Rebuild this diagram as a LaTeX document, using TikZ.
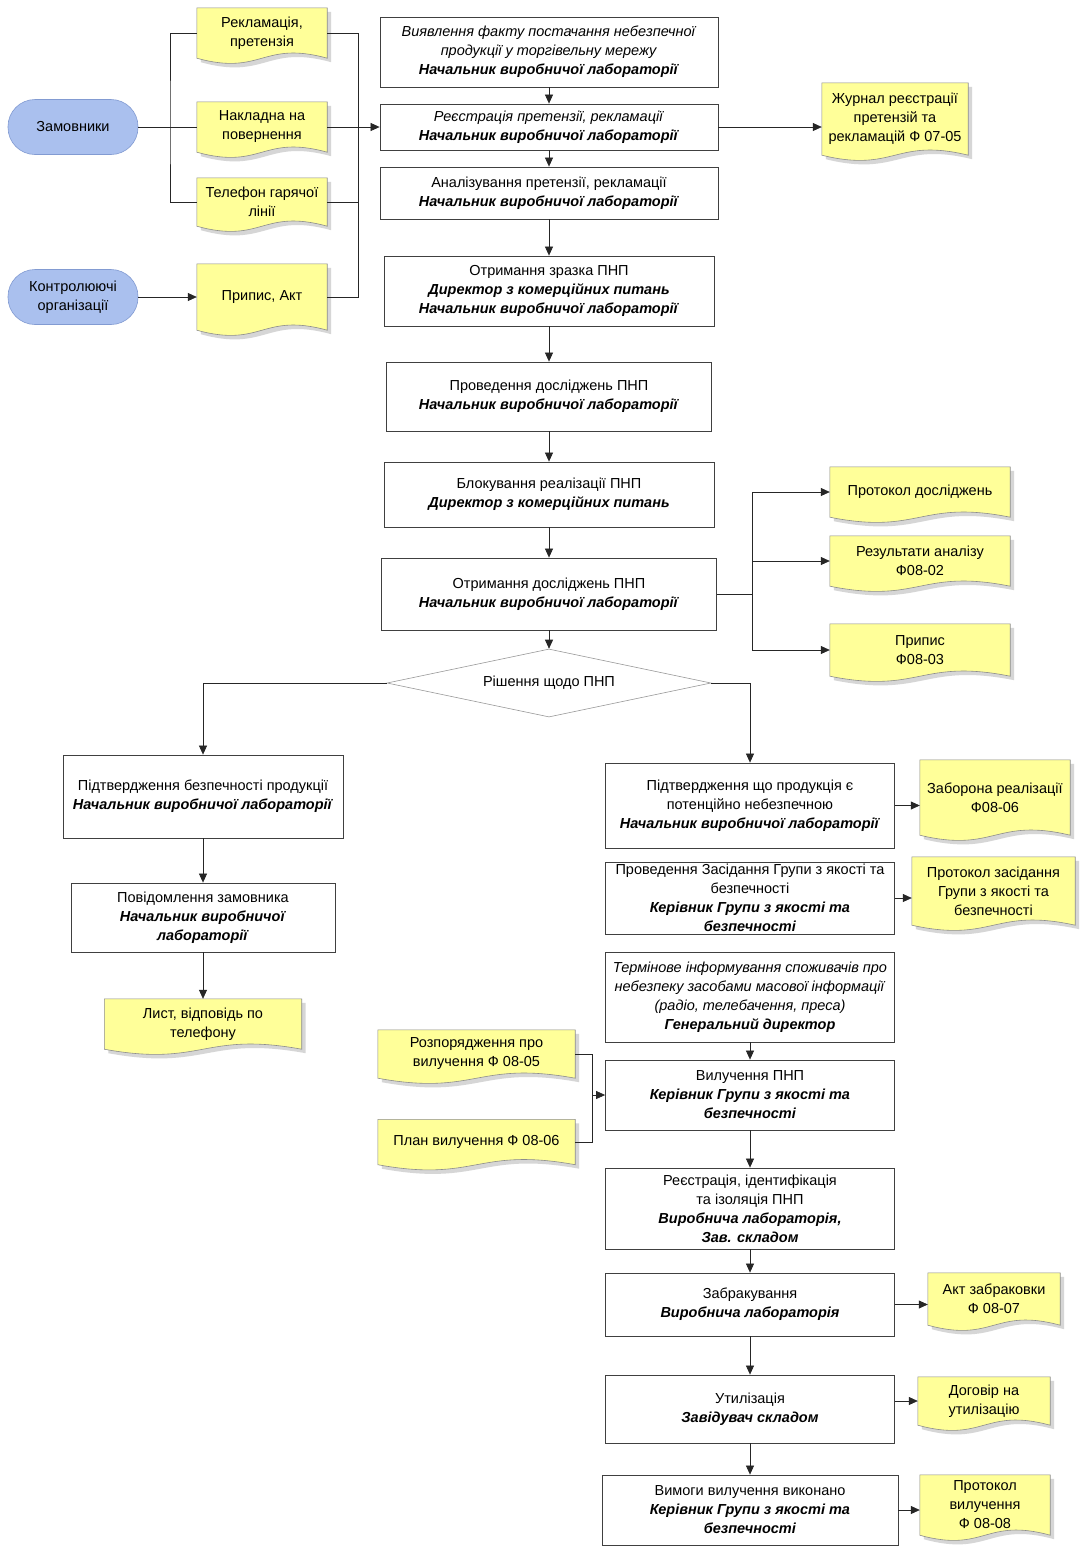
\documentclass[tikz,border=0pt]{standalone}
\usepackage{fontspec}
\setmainfont{Liberation Sans}
\usetikzlibrary{arrows.meta,shapes.geometric,backgrounds,calc}
\definecolor{docY}{RGB}{255,255,153}
\definecolor{termB}{RGB}{170,192,238}
\definecolor{termD}{RGB}{130,155,210}
\newcommand\mybi[1]{\textbf{\textit{#1}}}
\newcommand\docshape[1]{%
  \fill[black!16] ([shift={(4,4)}]#1.north west) -- ([shift={(4,4)}]#1.north east) -- ([shift={(4,4)}]#1.south east)
    .. controls ([shift={(4,-14)}]#1.south) and ([shift={(4,22)}]#1.south) .. ([shift={(4,4)}]#1.south west) -- cycle;
  \filldraw[fill=docY, draw=black!45, line width=0.6pt] (#1.north west) -- (#1.north east) -- (#1.south east)
    .. controls ([shift={(0,-18)}]#1.south) and ([shift={(0,18)}]#1.south) .. (#1.south west) -- cycle;}
\begin{document}
\begin{tikzpicture}[x=1pt,y=-1pt,
  every node/.style={font=\fontsize{14.5}{19}\selectfont, align=center},
  proc/.style={draw=black!75, line width=0.8pt, fill=white, inner sep=1pt},
  docnode/.style={inner sep=1pt},
  termnode/.style={draw=termD, line width=0.6pt, fill=termB, rounded corners=27pt, minimum width=130pt, minimum height=55pt, inner sep=1pt},
  ln/.style={draw=black!85, line width=0.7pt},
  arr/.style={draw=black!85, line width=0.7pt, -{Triangle[length=9pt,width=8pt]}}]
\useasboundingbox (0,0) rectangle (1081,1551);

% ---- left inputs
\node[termnode] (zam) at (73,127) {Замовники};
\node[termnode] (kon) at (73,297) {Контролюючі\\організації};
\node[docnode, minimum width=130pt, minimum height=50pt] (rek) at (262,33) {Рекламація,\\претензія};
\node[docnode, minimum width=130pt, minimum height=50pt] (nak) at (262,127) {Накладна на\\повернення};
\node[docnode, minimum width=130pt, minimum height=48pt] (tel) at (262,202) {Телефон гарячої\\лінії};
\node[docnode, minimum width=130pt, minimum height=66pt] (prip) at (262,297) {Припис, Акт};

% ---- main column
\node[proc, minimum width=338pt, minimum height=70pt] (b1) at (549,52)
  {\textit{Виявлення факту постачання небезпечної}\\\textit{продукції у торгівельну мережу}\\\mybi{Начальник виробничої лабораторії}};
\node[proc, minimum width=338pt, minimum height=46pt] (b2) at (549,127)
  {\textit{Реєстрація претензії, рекламації}\\\mybi{Начальник виробничої лабораторії}};
\node[proc, minimum width=338pt, minimum height=52pt] (b3) at (549,193)
  {Аналізування претензії, рекламації\\\mybi{Начальник виробничої лабораторії}};
\node[proc, minimum width=330pt, minimum height=70pt] (b4) at (549,291)
  {Отримання зразка ПНП\\\mybi{Директор з комерційних питань}\\\mybi{Начальник виробничої лабораторії}};
\node[proc, minimum width=325pt, minimum height=69pt] (b5) at (549,396.5)
  {Проведення досліджень ПНП\\\mybi{Начальник виробничої лабораторії}};
\node[proc, minimum width=330pt, minimum height=65pt] (b6) at (549,494.5)
  {Блокування реалізації ПНП\\\mybi{Директор з комерційних питань}};
\node[proc, minimum width=335pt, minimum height=72pt] (b7) at (549,594)
  {Отримання досліджень ПНП\\\mybi{Начальник виробничої лабораторії}};
\node[diamond, shape aspect=4.76, draw=black!40, line width=0.6pt, fill=white, minimum width=324pt, minimum height=68pt, inner sep=0pt] (dia) at (549,683) {Рішення щодо ПНП};

\node[docnode, minimum width=146pt, minimum height=72pt] (zhur) at (895,119) {Журнал реєстрації\\претензій та\\рекламацій Ф 07-05};
\node[docnode, minimum width=180pt, minimum height=50pt] (pr1) at (920,492) {Протокол досліджень};
\node[docnode, minimum width=180pt, minimum height=50pt] (rez) at (920,561) {Результати аналізу\\Ф08-02};
\node[docnode, minimum width=180pt, minimum height=52pt] (pr2) at (920,650) {Припис\\Ф08-03};

% ---- left branch
\node[proc, minimum width=280pt, minimum height=83pt] (pb) at (203,796.5)
  {Підтвердження безпечності продукції\\\mybi{Начальник виробничої лабораторії}};
\node[proc, minimum width=264pt, minimum height=69pt] (pz) at (203,917.5)
  {Повідомлення замовника\\\mybi{Начальник виробничої}\\\mybi{лабораторії}};
\node[docnode, minimum width=197pt, minimum height=50pt] (lyst) at (203,1024) {Лист, відповідь по\\телефону};

% ---- right branch
\node[proc, minimum width=289pt, minimum height=85pt] (pd) at (750,805.5)
  {Підтвердження що продукція є\\потенційно небезпечною\\\mybi{Начальник виробничої лабораторії}};
\node[proc, minimum width=289pt, minimum height=72pt] (pzas) at (750,898)
  {Проведення Засідання Групи з якості та\\безпечності\\\mybi{Керівник Групи з якості та}\\\mybi{безпечності}};
\node[proc, minimum width=289pt, minimum height=90pt] (term) at (750,997)
  {\textit{Термінове інформування споживачів про}\\\textit{небезпеку засобами масової інформації}\\\textit{(радіо, телебачення, преса)}\\\mybi{Генеральний директор}};
\node[proc, minimum width=289pt, minimum height=70pt] (vyl) at (750,1095)
  {Вилучення ПНП\\\mybi{Керівник Групи з якості та}\\\mybi{безпечності}};
\node[proc, minimum width=289pt, minimum height=81pt] (reie) at (750,1208.5)
  {Реєстрація, ідентифікація\\та ізоляція ПНП\\\mybi{Виробнича лабораторія,}\\\mybi{Зав. складом}};
\node[proc, minimum width=289pt, minimum height=63pt] (zabr) at (750,1304.5)
  {Забракування\\\mybi{Виробнича лабораторія}};
\node[proc, minimum width=289pt, minimum height=68pt] (util) at (750,1409)
  {Утилізація\\\mybi{Завідувач складом}};
\node[proc, minimum width=296pt, minimum height=70pt] (vymo) at (750,1510)
  {Вимоги вилучення виконано\\\mybi{Керівник Групи з якості та}\\\mybi{безпечності}};

\node[docnode, minimum width=150pt, minimum height=75pt] (zab) at (995,797.5) {Заборона реалізації\\Ф08-06};
\node[docnode, minimum width=163pt, minimum height=68pt] (protz) at (993.5,891) {Протокол засідання\\Групи з якості та\\безпечності};
\node[docnode, minimum width=197pt, minimum height=48pt] (rozp) at (476.5,1054) {Розпорядження про\\вилучення Ф 08-05};
\node[docnode, minimum width=197pt, minimum height=45pt] (plan) at (476.5,1142) {План вилучення Ф 08-06};
\node[docnode, minimum width=132pt, minimum height=52pt] (akt) at (994,1299) {Акт забраковки\\Ф 08-07};
\node[docnode, minimum width=132pt, minimum height=48pt] (dog) at (984,1401) {Договір на\\утилізацію};
\node[docnode, minimum width=130pt, minimum height=60pt] (protv) at (985,1505) {Протокол\\вилучення\\Ф 08-08};

% ---- document shapes behind texts
\begin{scope}[on background layer]
  \fill[white] (0,0) rectangle (1081,1551);
  \docshape{rek}\docshape{nak}\docshape{tel}\docshape{prip}
  \docshape{zhur}\docshape{pr1}\docshape{rez}\docshape{pr2}
  \docshape{lyst}\docshape{zab}\docshape{protz}\docshape{rozp}\docshape{plan}
  \docshape{akt}\docshape{dog}\docshape{protv}
\end{scope}

% ---- connectors: left inputs
\coordinate (bl) at (170,127);
\coordinate (br) at (358,127);
\draw[ln] (zam.east) -- (nak.west);
\draw[ln] (rek.west) -| (bl) |- (tel.west);
\draw[ln] (rek.east) -| (br);
\draw[ln] (tel.east) -| (br);
\draw[ln] (prip.east) -| (br);
\draw[arr] (nak.east) -- (b2.west);
\draw[arr] (kon.east) -- (prip.west);

% ---- main column
\draw[arr] (b1.south) -- (b2.north);
\draw[arr] (b2.south) -- (b3.north);
\draw[arr] (b3.south) -- (b4.north);
\draw[arr] (b4.south) -- (b5.north);
\draw[arr] (b5.south) -- (b6.north);
\draw[arr] (b6.south) -- (b7.north);
\draw[arr] (b7.south) -- (dia.north);
\draw[arr] (b2.east) -- (b2.east -| zhur.west);

\coordinate (bx) at (752,0);
\draw[ln] (b7.east) -- (b7.east -| bx);
\draw[ln] (bx |- pr1.west) -- (bx |- pr2.west);
\draw[arr] (bx |- pr1.west) -- (pr1.west);
\draw[arr] (bx |- rez.west) -- (rez.west);
\draw[arr] (bx |- pr2.west) -- (pr2.west);

% ---- decision
\draw[arr] (dia.west) -| (pb.north);
\draw[arr] (dia.east) -| (pd.north);
\draw[arr] (pb.south) -- (pz.north);
\draw[arr] (pz.south) -- (lyst.north);

% ---- right branch
\draw[arr] (pd.east) -- (pd.east -| zab.west);
\draw[arr] (pzas.east) -- (pzas.east -| protz.west);
\draw[arr] (term.south) -- (vyl.north);
\draw[arr] (vyl.south) -- (reie.north);
\draw[arr] (reie.south) -- (zabr.north);
\draw[arr] (zabr.south) -- (util.north);
\draw[arr] (util.south) -- (vymo.north);
\draw[arr] (zabr.east) -- (zabr.east -| akt.west);
\draw[arr] (dog.west -| util.east) -- (dog.west);
\draw[arr] (vymo.east) -- (vymo.east -| protv.west);

\coordinate (bv) at (592,1095);
\draw[ln] (rozp.east) -| (bv);
\draw[ln] (plan.east) -| (bv);
\draw[arr] (bv) -- (vyl.west);
\end{tikzpicture}
\end{document}
